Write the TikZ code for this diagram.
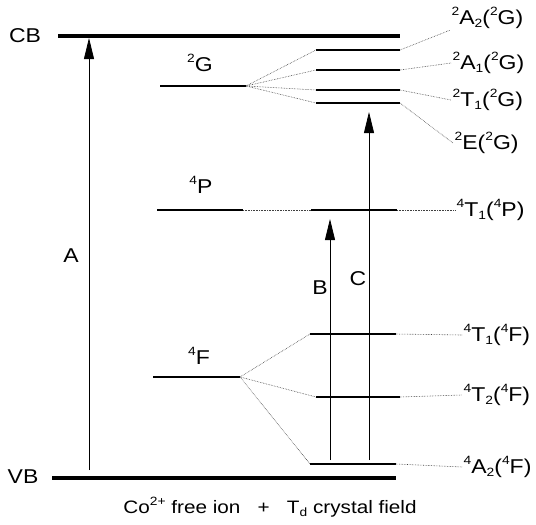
\documentclass[tikz,border=0pt]{standalone}
\usepackage{fontspec}
\setmainfont[FakeStretch=1.15]{Liberation Sans}
\usetikzlibrary{arrows.meta}
\newcommand{\up}[1]{\raisebox{.42em}{\fontsize{12}{12}\selectfont #1}}
\newcommand{\dn}[1]{\raisebox{-.18em}{\fontsize{12}{12}\selectfont #1}}

\begin{document}
\begin{tikzpicture}[x=1pt,y=-1pt,line cap=butt,
 band/.style={line width=4.5pt},
 level/.style={line width=2.4pt},
 link/.style={line width=.6pt,densely dotted,black!75},
 trans/.style={line width=.8pt,-{Triangle[length=21pt,width=10pt]}},
 lab/.style={font=\fontsize{20}{24}\selectfont,inner sep=1.5pt}]
\useasboundingbox (0,0) rectangle (536,525);
% bands
\draw[band] (58,36) coordinate (CBl) -- (400,36) coordinate (CBr);
\draw[band] (52,478) coordinate (VBl) -- (396,478) coordinate (VBr);
\node[lab] (CB) at (25,36) {CB};
\node[lab] (VB) at (23,477) {VB};
% free ion terms
\draw[level] (160,86) -- (246,86) coordinate (G);
\draw[level] (157,210) -- (243,210) coordinate (P);
\draw[level] (153,377) -- (240,377) coordinate (F);
\node[lab] (Glab) at (200,63) {\up{2}G};
\node[lab] (Plab) at (201,185) {\up{4}P};
\node[lab] (Flab) at (199,356) {\up{4}F};
% crystal field levels
\foreach \nm/\xa/\xb/\yy in {a2G/316/400/50,a1G/316/400/70,t1G/316/400/90,eG/316/400/103,
 t1P/311/397/210,t1F/310/396/334,t2F/316/400/397,a2F/310/396/464}
 \draw[level] (\xa,\yy) coordinate (\nm l) -- (\xb,\yy) coordinate (\nm r);
% term labels
\node[lab,anchor=west] (La2G) at (450,18) {\up{2}A\dn{2}(\up{2}G)};
\node[lab,anchor=west] (La1G) at (451,63) {\up{2}A\dn{1}(\up{2}G)};
\node[lab,anchor=west] (Lt1G) at (451,100) {\up{2}T\dn{1}(\up{2}G)};
\node[lab,anchor=west] (LeG) at (453,143) {\up{2}E(\up{2}G)};
\node[lab,anchor=west] (Lt1P) at (455,210) {\up{4}T\dn{1}(\up{4}P)};
\node[lab,anchor=west] (Lt1F) at (462,335) {\up{4}T\dn{1}(\up{4}F)};
\node[lab,anchor=west] (Lt2F) at (462,395) {\up{4}T\dn{2}(\up{4}F)};
\node[lab,anchor=west] (La2F) at (462,467) {\up{4}A\dn{2}(\up{4}F)};
% correlation lines
\foreach \nm in {a2G,a1G,t1G,eG}
 \draw[link] (G) -- (\nm l);
\draw[link] (P) -- (t1Pl);
\foreach \nm in {t1F,t2F,a2F}
 \draw[link] (F) -- (\nm l);
\draw[link] (a2Gr) -- (La2G.south west);
\draw[link] (a1Gr) -- (La1G.west);
\draw[link] (t1Gr) -- (Lt1G.west);
\draw[link] (eGr) -- (LeG.west);
\draw[link] (t1Pr) -- (Lt1P.west);
\draw[link] (t1Fr) -- (Lt1F.west);
\draw[link] (t2Fr) -- (Lt2F.west);
\draw[link] (a2Fr) -- (La2F.west);
% transitions
\coordinate (Abot) at (89,470);
\coordinate (Atop) at (89,38);
\coordinate (Bbot) at (330,460);
\coordinate (Btop) at (330,219);
\coordinate (Cbot) at (369,460);
\coordinate (Ctop) at (369,112);
\draw[trans] (Abot) -- (Atop);
\draw[trans] (Bbot) -- (Btop);
\draw[trans] (Cbot) -- (Ctop);
\node[lab] (Alab) at (71,256) {A};
\node[lab] (Blab) at (320,288) {B};
\node[lab] (Clab) at (358,279) {C};
% caption
\node[lab,font=\fontsize{18}{22}\selectfont] (cap) at (270,507)
 {Co\up{2+}\ free\ ion\ \ \ +\ \ \ T\dn{d}\ crystal\ field};
\end{tikzpicture}
\end{document}
